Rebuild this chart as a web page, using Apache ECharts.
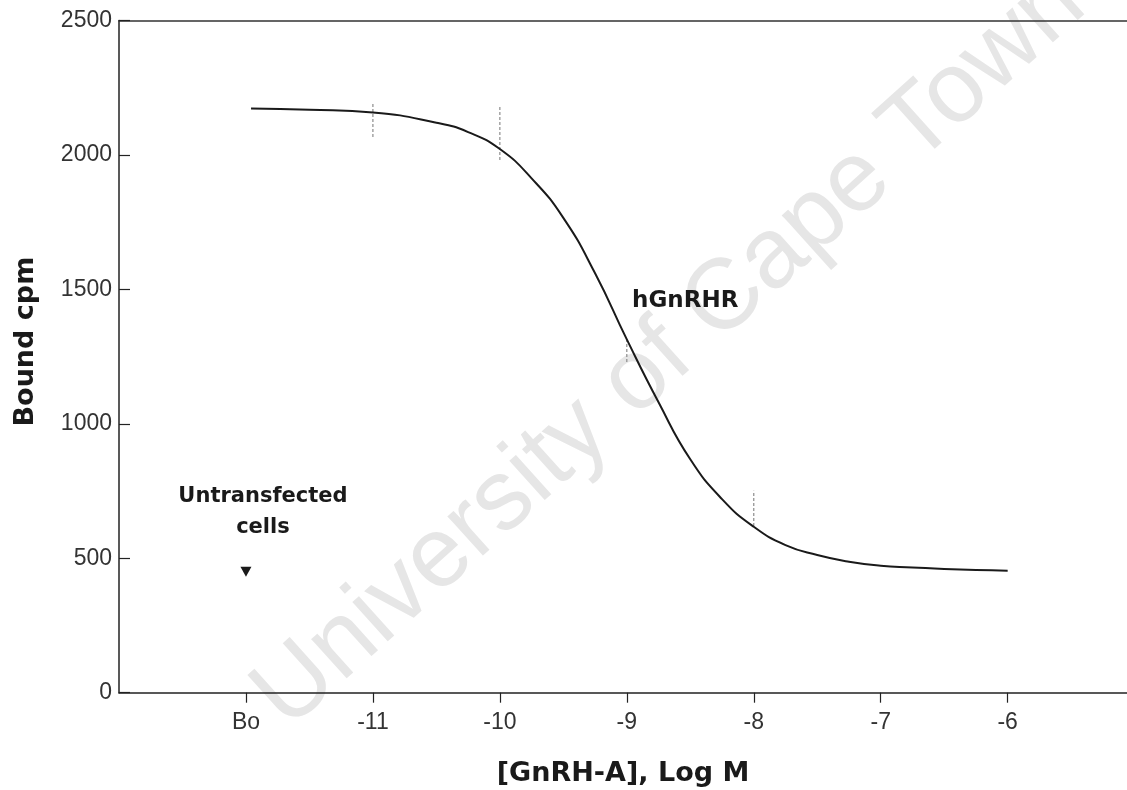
<!DOCTYPE html>
<html>
<head>
<meta charset="utf-8">
<script src="https://cdn.jsdelivr.net/npm/echarts@6/dist/echarts.min.js"></script>
<style>
  html, body { margin: 0; padding: 0; background: #ffffff; }
  #chart { width: 1127px; height: 790px; }
</style>
</head>
<body>
<div id="chart"></div>
<script>
// x positions of the axis ticks (log M); -12 stands for the Bo (no ligand) point
const tickValues = [-12, -11, -10, -9, -8, -7, -6];
const tickLabels = ['Bo', '-11', '-10', '-9', '-8', '-7', '-6'];
const yTicks = [0, 500, 1000, 1500, 2000, 2500];

// fitted displacement curve for hGnRHR
const curveX = [-11.96, -11.5, -11, -10.5, -10.25, -10, -9.75, -9.5, -9.25, -9, -8.75, -8.5, -8.25, -8, -7.75, -7.5, -7.25, -7, -6.75, -6.5, -6.25, -6];
const curveY = [2173, 2168, 2158, 2120, 2085, 2022, 1913, 1766, 1560, 1314, 1080, 868, 720, 617, 549, 512, 487, 472, 466, 460, 456, 454];

// error bars (low / high bound cpm)
const errX = [-11, -10, -9, -8];
const errLow = [2067, 1981, 1230, 620];
const errHigh = [2193, 2182, 1314, 751];

// untransfected cells control
const controlX = [-12];
const controlY = [450];

const chart = echarts.init(document.getElementById('chart'));

const labelFor = v => {
  const i = tickValues.indexOf(Math.round(v));
  return i >= 0 ? tickLabels[i] : '';
};

const axisColor = '#222222';
const tickFont = { fontFamily: 'Liberation Sans', fontSize: 23, color: '#333333' };

chart.setOption({
  backgroundColor: '#ffffff',
  animation: false,
  grid: { left: 119, right: 0, top: 20.5, bottom: 97.3, containLabel: false, outerBoundsMode: 'none' },
  graphic: [{
    type: 'text',
    x: 670, y: 350,
    rotation: 42 * Math.PI / 180,
    z: -10,
    silent: true,
    style: {
      text: 'University of Cape Town',
      font: '100px "Liberation Sans"',
      fill: '#e6e6e6',
      align: 'center',
      verticalAlign: 'middle'
    }
  }],
  xAxis: [{
    type: 'value',
    min: -13, max: -5.06, interval: 1,
    name: '[GnRH-A], Log M',
    nameLocation: 'middle',
    nameGap: 68,
    nameTextStyle: { fontFamily: 'DejaVu Sans', fontWeight: 'bold', fontSize: 27, color: '#1a1a1a' },
    axisLine: { show: true, onZero: false, lineStyle: { color: axisColor, width: 1.5 } },
    axisTick: { show: true, inside: false, length: 10, customValues: tickValues, lineStyle: { color: axisColor, width: 1.2 } },
    axisLabel: { show: true, margin: 18, customValues: tickValues, formatter: labelFor, ...tickFont },
    splitLine: { show: false }
  }, {
    type: 'value',
    position: 'top',
    min: -13, max: -5.06, interval: 1,
    axisLine: { show: true, onZero: false, lineStyle: { color: '#333333', width: 1.5 } },
    axisTick: { show: false },
    axisLabel: { show: false },
    splitLine: { show: false }
  }],
  yAxis: {
    type: 'value',
    min: 0, max: 2500, interval: 500,
    name: 'Bound cpm',
    nameLocation: 'middle',
    nameGap: 80,
    nameRotate: 90,
    nameTextStyle: { fontFamily: 'DejaVu Sans', fontWeight: 'bold', fontSize: 27, color: '#1a1a1a', padding: [0, 0, 0, 30] },
    axisLine: { show: true, lineStyle: { color: axisColor, width: 1.5 } },
    axisTick: { show: true, inside: true, length: 11, customValues: yTicks, lineStyle: { color: axisColor, width: 1.2 } },
    axisLabel: { margin: 7, formatter: v => String(v), ...tickFont },
    splitLine: { show: false }
  },
  series: [{
    name: 'hGnRHR error',
    type: 'custom',
    z: 1,
    data: errX.map((x, i) => [x, errLow[i], errHigh[i]]),
    renderItem: (params, api) => {
      const lo = api.coord([api.value(0), api.value(1)]);
      const hi = api.coord([api.value(0), api.value(2)]);
      return {
        type: 'line',
        shape: { x1: lo[0], y1: lo[1], x2: hi[0], y2: hi[1] },
        style: { stroke: '#8c8c8c', lineWidth: 1.2, lineDash: [3, 2] }
      };
    }
  }, {
    name: 'hGnRHR',
    type: 'line',
    z: 3,
    smooth: 0.5,
    showSymbol: false,
    symbol: 'none',
    data: curveX.map((x, i) => [x, curveY[i]]),
    lineStyle: { color: '#1a1a1a', width: 2 },
    markPoint: {
      symbol: 'circle',
      symbolSize: 0,
      silent: true,
      data: [{
        coord: [-8.54, 1458],
        label: {
          show: true, position: 'inside', formatter: 'hGnRHR',
          fontFamily: 'DejaVu Sans', fontWeight: 'bold', fontSize: 23, color: '#1a1a1a'
        }
      }]
    }
  }, {
    name: 'Untransfected cells',
    type: 'scatter',
    z: 3,
    symbol: 'triangle',
    symbolRotate: 180,
    symbolSize: [11, 10],
    itemStyle: { color: '#1a1a1a', opacity: 1 },
    data: controlX.map((x, i) => [x, controlY[i]]),
    label: {
      show: true,
      position: 'top',
      distance: 24,
      offset: [17, 0],
      formatter: 'Untransfected\ncells',
      align: 'center',
      lineHeight: 31,
      fontFamily: 'DejaVu Sans', fontWeight: 'bold', fontSize: 21, color: '#1a1a1a'
    }
  }]
});
</script>
</body>
</html>
